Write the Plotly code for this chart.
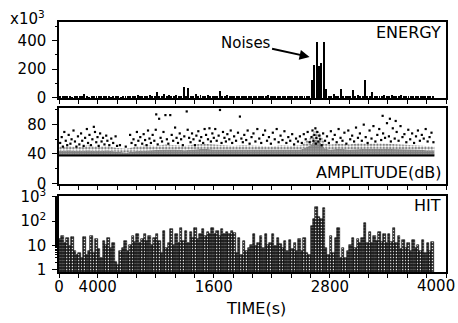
import plotly.graph_objects as go

# ---------------- data ----------------
BIN_WIDTH = 25  # s, histogram / energy bin width

ENERGY = [  # x10^3, one value per 25 s bin from t=0
    6, 8, 5, 10, 7, 4, 9, 6, 5, 8,
    24, 6, 4, 9, 7, 5, 12, 6, 8, 5,
    7, 4, 6, 10, 5, 3, 6, 8, 12, 5,
    9, 6, 15, 7, 10, 5, 8, 18, 6, 9,
    40, 7, 12, 25, 8, 15, 10, 6, 20, 9,
    14, 77, 10, 66, 12, 8, 25, 10, 16, 9,
    12, 18, 8, 14, 10, 7, 49, 12, 9, 15,
    8, 10, 6, 9, 5, 8, 12, 6, 10, 7,
    9, 14, 6, 8, 11, 7, 16, 8, 10, 6,
    9, 7, 12, 6, 8, 10, 5, 9, 7, 8,
    6, 10, 7, 12, 120, 230, 393, 220, 240, 393,
    60, 10, 8, 22, 12, 9, 59, 10, 8, 12,
    9, 54, 14, 20, 10, 8, 124, 12, 9, 40,
    10, 14, 8, 12, 16, 9, 11, 20, 8, 12,
    9, 15, 10, 8, 12, 7, 10, 9, 14, 8,
    10, 6, 9, 12, 7,
]

HIT = [  # hits per 25 s bin from t=0
    18, 25, 12, 20, 9, 22, 6, 4,
    5, 3, 22, 4, 6, 25, 5, 18, 7, 3,
    15, 10, 20, 8, 12, 2, 1.5, 6,
    8, 15, 6, 10, 25, 14, 28, 12, 18, 30,
    15, 25, 10, 20, 30, 15,
    5, 40, 8, 12, 45, 10, 30, 12,
    50, 15, 40, 12, 35, 20, 50, 18,
    30, 45, 25, 35, 28, 50, 30, 40, 25, 45, 30, 35, 28, 40, 32,
    5, 20, 4, 15, 6, 8,
    10, 30, 9, 12, 25, 8, 30, 10, 12, 28, 9, 20, 11,
    8, 15, 6, 16, 7, 12, 6, 18,
    6, 20, 5, 4,
    60, 120, 380, 150, 120, 340,
    8, 4,
    25, 5, 20, 50,
    3, 8, 3, 6,
    10, 20, 8, 18, 12, 20,
    80,
    13, 35, 12, 25, 15, 35, 14, 30,
    12, 30, 14, 50, 12, 25,
    7, 16, 8, 12, 6, 16, 8, 10,
    6, 16, 5, 12, 6, 14,
]

# dense amplitude band (threshold floor, core top, and upper envelope of the dense cloud)
AMP_FLOOR = 38
BAND_T = [0, 100, 200, 300, 400, 500, 600, 700, 800, 900, 1000, 1100, 1200, 1300,
          1400, 1500, 1600, 1700, 1800, 1900, 2000, 2100, 2200, 2300, 2400, 2500,
          2600, 2650, 2700, 2750, 2800, 2900, 3000, 3100, 3200, 3300, 3400, 3500,
          3600, 3700, 3800, 3880]
BAND_CORE = [44, 45, 44, 45, 44, 45, 43, 42, 44, 45, 45, 46, 46, 45,
             46, 47, 46, 46, 45, 46, 46, 45, 45, 46, 45, 46,
             52, 60, 56, 47, 46, 47, 46, 47, 47, 47, 47, 46,
             46, 46, 45, 45]
BAND_TOP = [50, 51, 49, 52, 50, 51, 48, 47, 50, 52, 51, 53, 52, 51,
            53, 54, 53, 52, 51, 52, 52, 51, 50, 52, 51, 52,
            62, 74, 68, 54, 53, 54, 53, 55, 54, 55, 54, 53,
            52, 52, 51, 50]

# sparse amplitude hits (time s, dB)
AMP_T = [12, 28, 40, 55, 70, 85, 100, 118, 130, 150, 165, 180, 196, 210, 228, 240,
         255, 270, 288, 300, 315, 330, 345, 360, 372, 385, 398, 410, 425, 440, 455,
         470, 488, 500, 520, 540, 560, 585, 600, 630, 690,
         735, 750, 770, 790, 805, 820, 840, 860, 875, 890, 905, 920, 935, 950, 968,
         985, 1000, 1005, 1020, 1035, 1050, 1065, 1080, 1100, 1115, 1130, 1150,
         1165, 1180, 1200, 1215, 1230, 1248, 1262, 1280, 1295,
         1320, 1330, 1345, 1360, 1375, 1390, 1405, 1420, 1440, 1455, 1470, 1490,
         1505, 1520, 1540, 1555, 1570, 1585, 1600,
         1615, 1630, 1650, 1664, 1680, 1695, 1710, 1725, 1740, 1760, 1775, 1790,
         1810, 1830, 1850, 1870, 1885, 1900,
         1915, 1935, 1950, 1970, 1990, 2010, 2030, 2050, 2070, 2090, 2110, 2130,
         2150, 2170, 2190,
         2210, 2230, 2250, 2270, 2290, 2310, 2330, 2350, 2370, 2390, 2410, 2430,
         2450, 2470, 2490,
         2510, 2530, 2550, 2570, 2590, 2610, 2620, 2630, 2640, 2650, 2655, 2660,
         2670, 2680, 2690, 2700, 2715, 2730, 2750, 2770, 2790,
         2810, 2830, 2850, 2870, 2890, 2910, 2930, 2950, 2970, 2990, 3010, 3030,
         3050, 3070, 3090,
         3110, 3130, 3150, 3170, 3190, 3210, 3230, 3250, 3270, 3290, 3310, 3330,
         3350, 3370, 3390,
         3410, 3430, 3450, 3470, 3490, 3510, 3530, 3550, 3570, 3590, 3610, 3630,
         3650, 3670, 3690,
         3710, 3730, 3750, 3770, 3790, 3810, 3830, 3850, 3870,
         3345, 3420, 3480]
AMP_DB = [55, 63, 50, 70, 58, 52, 66, 54, 60, 72, 57, 50, 64, 53, 68, 58,
          51, 62, 74, 55, 66, 52, 60, 77, 70, 56, 63, 51, 68, 57, 62,
          53, 65, 58, 52, 61, 55, 64, 51, 52, 50,
          66, 55, 60, 52, 70, 58, 63, 54, 67, 59, 52, 72, 61, 55, 66,
          58, 73, 94, 53, 88, 62, 57, 70, 93, 60, 54, 93,
          66, 58, 76, 62, 55, 68, 60, 52, 64,
          98, 73, 62, 56, 68, 60, 52, 65, 71, 58, 63, 55,
          74, 66, 60, 75, 57, 68, 62,
          74, 58, 65, 100, 55, 70, 62, 57, 67, 60, 72, 55,
          64, 58, 69, 91, 61, 56,
          66, 59, 72, 54, 63, 68, 57, 74, 61, 55, 66, 72,
          58, 63, 54,
          69, 60, 74, 56, 65, 59, 71, 55, 63, 58, 67, 53,
          61, 57, 64,
          55, 67, 60, 70, 56, 63, 72, 58, 66, 75, 54, 62,
          70, 57, 65, 60, 52, 68, 58, 64, 55,
          71, 60, 66, 56, 74, 62, 58, 69, 54, 72, 60, 65,
          57, 76, 62,
          68, 58, 80, 63, 55, 72, 61, 78, 57, 66, 74, 59,
          68, 62, 82,
          64, 57, 75, 61, 70, 58, 78, 63, 67, 56, 73, 60,
          68, 55, 64,
          72, 58, 66, 61, 74, 57, 63, 69, 56,
          92, 88, 85]

# x-axis labels as printed in the original figure (note the "4000" at 400 s)
X_TICK_POS = [0, 400, 1600, 2800]
X_TICK_TXT = ["0", "4000", "1600", "2800"]
X_END_POS, X_END_TXT = 4000, "4000"

# ---------------- figure ----------------
FONT = "DejaVu Sans"
bin_centres = [BIN_WIDTH * (i + 0.5) for i in range(len(HIT))]
e_centres = [BIN_WIDTH * (i + 0.5) for i in range(len(ENERGY))]

fig = go.Figure()

# ENERGY
fig.add_trace(go.Bar(x=e_centres, y=ENERGY, width=10, marker=dict(color="black", line=dict(width=0)),
                     xaxis="x", yaxis="y", showlegend=False))

# AMPLITUDE dense cloud
fig.add_trace(go.Scatter(x=BAND_T, y=[AMP_FLOOR] * len(BAND_T), mode="lines",
                         line=dict(color="black", width=2), xaxis="x2", yaxis="y2", showlegend=False))
fig.add_trace(go.Scatter(x=BAND_T, y=BAND_CORE, mode="lines", line=dict(width=0, color="rgba(0,0,0,0)"),
                         fill="tonexty", fillcolor="white",
                         fillpattern=dict(shape=".", fgcolor="black", bgcolor="white", size=2.4, solidity=0.85),
                         xaxis="x2", yaxis="y2", showlegend=False))
fig.add_trace(go.Scatter(x=BAND_T, y=BAND_TOP, mode="lines", line=dict(width=0, color="rgba(0,0,0,0)"),
                         fill="tonexty", fillcolor="white",
                         fillpattern=dict(shape=".", fgcolor="black", bgcolor="white", size=3.2, solidity=0.5),
                         xaxis="x2", yaxis="y2", showlegend=False))
fig.add_trace(go.Scatter(x=AMP_T, y=AMP_DB, mode="markers",
                         marker=dict(symbol="square", size=2.2, color="black", line=dict(width=0)),
                         xaxis="x2", yaxis="y2", showlegend=False))

# HIT
fig.add_trace(go.Bar(x=bin_centres, y=HIT, width=BIN_WIDTH,
                     marker=dict(color="#2a2a2a", line=dict(color="black", width=0.6),
                                 pattern=dict(shape=".", fgcolor="#e6e6e6", bgcolor="#262626",
                                              size=3, solidity=0.22, fillmode="replace")),
                     xaxis="x3", yaxis="y3", showlegend=False))

tick_font = dict(family=FONT, size=15, color="black")
common_x = dict(range=[0, 4000], domain=[0, 1], showline=True, mirror=True, linecolor="black",
                linewidth=1.5, ticks="outside", ticklen=4, tickwidth=1, tickcolor="black",
                showgrid=False, zeroline=False, tickvals=X_TICK_POS, ticktext=X_TICK_TXT,
                tickfont=tick_font, automargin=False,
                minor=dict(dtick=200, ticks="outside", ticklen=4, tickwidth=1, tickcolor="black"))
common_y = dict(showline=True, mirror=True, linecolor="black", linewidth=1.5, ticks="outside",
                ticklen=5, tickwidth=1, tickcolor="black", showgrid=False, zeroline=False,
                tickfont=tick_font, ticklabelstandoff=3, automargin=False)

fig.update_layout(
    width=458, height=323,
    margin=dict(l=59, r=12, t=22, b=51),
    paper_bgcolor="white", plot_bgcolor="white",
    bargap=0, barmode="overlay",
    font=dict(family=FONT, color="black"),
    xaxis=dict(common_x, anchor="y", showticklabels=False),
    xaxis2=dict(common_x, anchor="y2", showticklabels=False),
    xaxis3=dict(common_x, anchor="y3", ticklabelstandoff=-4),
    yaxis=dict(common_y, domain=[0.696, 1.0], anchor="x", range=[-3, 530], tickvals=[0, 200, 400],
               minor=dict(dtick=100, ticks="outside", ticklen=2, tickcolor="black")),
    yaxis2=dict(common_y, domain=[0.352, 0.656], anchor="x2", range=[-1, 102.7], tickvals=[0, 40, 80],
                minor=dict(dtick=20, ticks="outside", ticklen=2, tickcolor="black")),
    yaxis3=dict(common_y, domain=[0, 0.304], anchor="x3", type="log", range=[-0.1, 3.03],
                tickvals=[1, 10, 100, 1000], ticktext=["1", "10", "10<sup>2</sup>", "10<sup>3</sup>"],
                minor=dict(ticks="outside", ticklen=2, tickcolor="black")),
)

lab = dict(family=FONT, size=16, color="black")
# last x label, nudged left so it stays inside the picture (as in the original)
fig.add_annotation(xref="x3", yref="paper", x=X_END_POS, y=-0.054, xanchor="right", yanchor="middle",
                   xshift=11, text=X_END_TXT, showarrow=False, font=tick_font)
fig.add_annotation(xref="paper", yref="paper", x=-0.132, y=1.016, xanchor="left", yanchor="middle",
                   text="x10<sup>3</sup>", showarrow=False, font=dict(family=FONT, size=15, color="black"))
fig.add_annotation(xref="paper", yref="paper", x=0.992, y=0.96, xanchor="right", yanchor="middle",
                   text="ENERGY", showarrow=False, font=lab)
fig.add_annotation(xref="paper", yref="paper", x=0.994, y=0.40, xanchor="right", yanchor="middle",
                   text="AMPLITUDE(dB)", showarrow=False, font=lab)
fig.add_annotation(xref="paper", yref="paper", x=0.992, y=0.268, xanchor="right", yanchor="middle",
                   text="HIT", showarrow=False, font=lab)
fig.add_annotation(xref="paper", yref="paper", x=0.509, y=-0.144, xanchor="center", yanchor="middle",
                   text="TIME(s)", showarrow=False, font=lab)
fig.add_annotation(xref="x", yref="y", x=2590, y=285, text="Noises", showarrow=True,
                   ax=-64, ay=-14, arrowhead=2, arrowsize=1, arrowwidth=2, arrowcolor="black",
                   font=dict(family=FONT, size=15, color="black"))

fig.write_html("out.html")
